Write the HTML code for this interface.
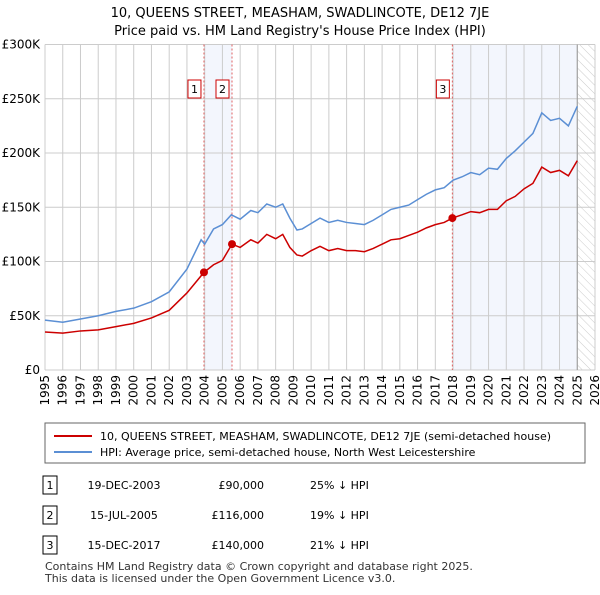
<!DOCTYPE html>
<html><head><meta charset="utf-8"><style>
body{margin:0;width:600px;height:590px;background:#fff;font-family:"Liberation Sans","DejaVu Sans",sans-serif;color:#000;overflow:hidden}
svg text{font-family:"DejaVu Sans","Liberation Sans",sans-serif}
</style></head><body>
<svg id="c" width="600" height="590">
<defs><pattern id="hatch" width="6" height="6" patternUnits="userSpaceOnUse" patternTransform="rotate(-45)"><line x1="0" y1="0" x2="0" y2="6" stroke="#ccc" stroke-width="1"/></pattern></defs>
<text x="300" y="17" text-anchor="middle" font-size="13">10, QUEENS STREET, MEASHAM, SWADLINCOTE, DE12 7JE</text>
<text x="300" y="35" text-anchor="middle" font-size="13">Price paid vs. HM Land Registry's House Price Index (HPI)</text>
<g id="grid"></g><g id="marks"></g>
<g>
<rect x="45" y="423" width="540" height="40" fill="#fff" stroke="#666"/>
<line x1="54" y1="436" x2="92" y2="436" stroke="#cc0000" stroke-width="2"/>
<text x="100" y="440" font-size="11">10, QUEENS STREET, MEASHAM, SWADLINCOTE, DE12 7JE (semi-detached house)</text>
<line x1="54" y1="452" x2="92" y2="452" stroke="#5b8fd4" stroke-width="2"/>
<text x="100" y="456" font-size="11">HPI: Average price, semi-detached house, North West Leicestershire</text>
</g>
<g id="table" font-size="11"></g>
<text x="45" y="570" font-size="11" fill="#333">Contains HM Land Registry data © Crown copyright and database right 2025.</text>
<text x="45" y="582" font-size="11" fill="#333">This data is licensed under the Open Government Licence v3.0.</text>
</svg>
<script>
const yTicks=[0,50,100,150,200,250,300];
const yTickLabels=["£0","£50K","£100K","£150K","£200K","£250K","£300K"];
const years=[];for(let y=1995;y<=2026;y++)years.push(y);
const hpiT=[1995,1996,1997,1998,1999,2000,2001,2002,2003,2003.8,2004,2004.5,2005,2005.5,2006,2006.6,2007,2007.5,2008,2008.4,2008.8,2009.2,2009.5,2010,2010.5,2011,2011.5,2012,2012.5,2013,2013.5,2014,2014.5,2015,2015.5,2016,2016.5,2017,2017.5,2018,2018.5,2019,2019.5,2020,2020.5,2021,2021.5,2022,2022.5,2023,2023.5,2024,2024.5,2025];
const hpiV=[46,44,47,50,54,57,63,72,93,120,116,130,134,143,139,147,145,153,150,153,140,129,130,135,140,136,138,136,135,134,138,143,148,150,152,157,162,166,168,175,178,182,180,186,185,195,202,210,218,237,230,232,225,243];
const redT=[1995,1996,1997,1998,1999,2000,2001,2002,2003,2003.96,2004.5,2005,2005.54,2006,2006.6,2007,2007.5,2008,2008.4,2008.8,2009.2,2009.5,2010,2010.5,2011,2011.5,2012,2012.5,2013,2013.5,2014,2014.5,2015,2015.5,2016,2016.5,2017,2017.5,2017.96,2018.5,2019,2019.5,2020,2020.5,2021,2021.5,2022,2022.5,2023,2023.5,2024,2024.5,2025];
const redV=[35,34,36,37,40,43,48,55,71,90,97,101,116,113,120,117,125,121,125,113,106,105,110,114,110,112,110,110,109,112,116,120,121,124,127,131,134,136,140,143,146,145,148,148,156,160,167,172,187,182,184,179,193];
const saleT=[2003.96,2005.54,2017.96];
const saleV=[90,116,140];
const saleLabels=["1","2","3"];
const saleDates=["19-DEC-2003","15-JUL-2005","15-DEC-2017"];
const salePrices=["£90,000","£116,000","£140,000"];
const saleHpi=["25% ↓ HPI","19% ↓ HPI","21% ↓ HPI"];
const X0=45,X1=595,Y0=370,Y1=44.5;
const x=t=>X0+(t-1995)*(X1-X0)/31, y=v=>Y0-v*(Y0-Y1)/300;
const NS="http://www.w3.org/2000/svg";
function mk(p,tag,a){const e=document.createElementNS(NS,tag);for(const k in a)e.setAttribute(k,a[k]);p.appendChild(e);return e;}
const g=document.getElementById('grid'),m=document.getElementById('marks');
let r=mk(g,'rect',{x:x(saleT[0]),y:Y1,width:x(saleT[1])-x(saleT[0]),height:Y0-Y1,fill:'#f3f6fd'});

r=mk(g,'rect',{x:x(saleT[2]),y:Y1,width:x(2025)-x(saleT[2]),height:Y0-Y1,fill:'#f3f6fd'});

r=mk(g,'rect',{x:x(2025),y:Y1,width:X1-x(2025),height:Y0-Y1,fill:'url(#hatch)'});

years.forEach(yr=>{const l=mk(g,'line',{x1:x(yr),x2:x(yr),y1:Y1,y2:Y0,stroke:'#ccc'});

const t=mk(g,'text',{x:0,y:0,'font-size':12,'text-anchor':'end',transform:`translate(${x(yr)+4},${Y0+5}) rotate(-90)`});t.textContent=yr;
});
yTicks.forEach((v,i)=>{const l=mk(g,'line',{x1:X0,x2:X1,y1:y(v),y2:y(v),stroke:'#ccc'});

const t=mk(g,'text',{x:X0-5,y:y(v)+4,'font-size':12,'text-anchor':'end'});t.textContent=yTickLabels[i];
});
let vl=mk(g,'line',{x1:x(2025),x2:x(2025),y1:Y1,y2:Y0,stroke:'#999'});

saleT.forEach((t,i)=>{const l=mk(m,'line',{x1:x(t),x2:x(t),y1:Y1,y2:Y0,stroke:'#e06060','stroke-dasharray':'2,2'});
});
let p=mk(m,'polyline',{points:hpiT.map((t,i)=>x(t)+','+y(hpiV[i])).join(' '),fill:'none',stroke:'#5b8fd4','stroke-width':1.5});

p=mk(m,'polyline',{points:redT.map((t,i)=>x(t)+','+y(redV[i])).join(' '),fill:'none',stroke:'#cc0000','stroke-width':1.5});

saleT.forEach((t,i)=>{const c=mk(m,'circle',{cx:x(t),cy:y(saleV[i]),r:4,fill:'#cc0000'});

const b=mk(m,'rect',{x:x(t)-16,y:80,width:13,height:18,fill:'#fff',stroke:'#cc0000'});

const tx=mk(m,'text',{x:x(t)-9.5,y:93,'font-size':11,'text-anchor':'middle'});tx.textContent=saleLabels[i];
});
const tb=document.getElementById('table');
saleT.forEach((t,i)=>{const yy=485+i*30;
const b=mk(tb,'rect',{x:43,y:yy-9,width:14,height:18,fill:'#fff',stroke:'#000'});

const cells=[[50,saleLabels[i],'middle'],[124,saleDates[i],'middle'],[264,salePrices[i],'end'],[310,saleHpi[i],'start']];
cells.forEach(c=>{const e=mk(tb,'text',{x:c[0],y:yy+4,'text-anchor':c[2]});e.textContent=c[1];
});});
</script>
</body></html>
